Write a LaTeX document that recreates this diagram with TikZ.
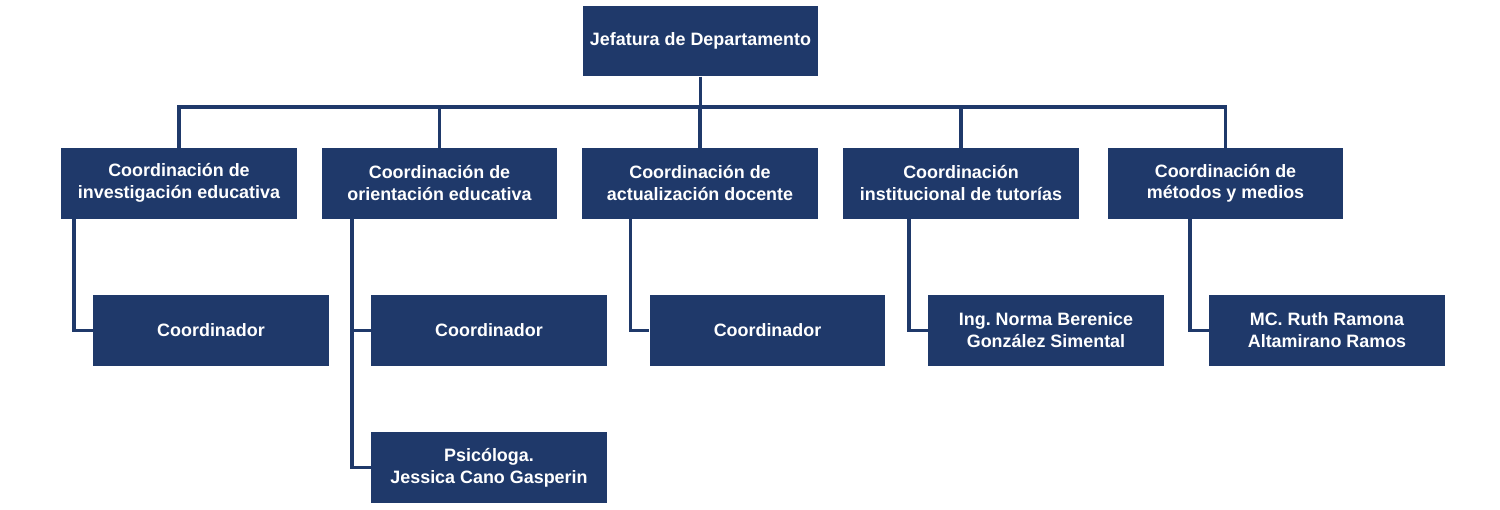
\documentclass[tikz,border=0pt]{standalone}
\usepackage{fontspec}
\setmainfont{Liberation Sans}
\definecolor{navy}{RGB}{31,57,106}
\begin{document}
\frenchspacing
\begin{tikzpicture}[x=0.02cm, y=-0.02cm,
    box/.style={fill=navy, text=white, font=\bfseries\fontsize{10.2}{12.5}\selectfont,
      align=center, minimum width=4.71cm, minimum height=1.41cm, inner sep=0pt},
    link/.style={draw=navy, line width=1.8pt}]
      \useasboundingbox (0,0) rectangle (1500,510);

      \node [box] (top) at (700.5, 41) {Jefatura de Departamento};

      \node [box] (c1) at (179, 183.3) {Coordinación de\\investigación educativa};
      \node [box] (c2) at (439.5, 183.3) {Coordinación de\\orientación educativa};
      \node [box] (c3) at (700, 183.3) {Coordinación de\\actualización docente};
      \node [box] (c4) at (961, 183.3) {Coordinación\\institucional de tutorías};
      \node [box] (c5) at (1225.5, 183.3) {Coordinación de\\métodos y medios};

      \node [box] (k1) at (211, 330.5) {Coordinador};
      \node [box] (k2) at (489, 330.5) {Coordinador};
      \node [box] (k3) at (767.5, 330.5) {Coordinador};
      \node [box] (k4) at (1046, 330.5) {Ing. Norma Berenice\\González Simental};
      \node [box] (k5) at (1327, 330.5) {MC. Ruth Ramona\\Altamirano Ramos};
      \node [box] (p2) at (489, 467.5) {Psicóloga.\\Jessica Cano Gasperin};

      \coordinate (bus) at (700.5, 107);
      \draw [link] (top.south) -- (bus);
      \foreach \c in {c1, c2, c3, c4, c5}
        \draw [link] (bus) -| (\c.north);

      \foreach \c/\k in {c1/k1, c2/k2, c3/k3, c4/k4, c5/k5}
        \draw [link] ([xshift=-0.38cm]\k.west |- \c.south) |- (\k.west);
      \draw [link] ([xshift=-0.38cm]p2.west |- c2.south) |- (p2.west);

\end{tikzpicture}
\end{document}
